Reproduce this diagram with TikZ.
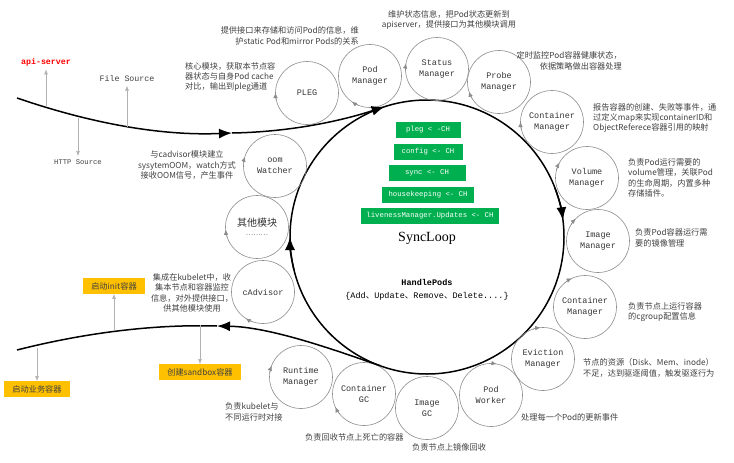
\documentclass[tikz,border=0pt]{standalone}
\usepackage{fontspec}
\setmainfont{Liberation Serif}
\newfontfamily\cjk{Noto Sans CJK SC}
\newfontfamily\mono{Liberation Mono}
\usepackage{tikz}
\usetikzlibrary{arrows.meta}
\definecolor{circgray}{HTML}{8C8C8C}
\definecolor{notegray}{HTML}{404040}
\definecolor{chgreen}{HTML}{00B050}
\definecolor{boxorange}{HTML}{FFC000}
\newcommand{\cjkcomma}{{\cjk 、}}

\begin{document}
\begin{tikzpicture}[x=1pt, y=-1pt,
    mod/.style={circle, draw=circgray, line width=0.6pt, minimum size=63pt, inner sep=0pt, align=center, text=black!80, font=\mono\fontsize{8.5}{11.5}\selectfont},
    modtip/.style={draw=circgray, line width=0.6pt, -{Latex[length=5pt,width=4.5pt]}},
    note/.style={inner sep=0pt, text=notegray, font=\cjk\fontsize{8.2}{10.3}\selectfont},
    chan/.style={fill=chgreen, text=white, minimum height=15.5pt, inner sep=0pt, font=\mono\fontsize{7.3}{8}\selectfont},
    ybox/.style={fill=boxorange, minimum height=15.5pt, inner xsep=8pt, inner ysep=0pt, text=notegray, font=\cjk\fontsize{8.2}{9}\selectfont},
    src/.style={text=notegray, font=\mono\fontsize{8.3}{10}\selectfont},
    flow/.style={line width=1.5pt},
    bigtip/.style={-{Latex[length=13pt,width=10pt]}},
    feed/.style={draw=black!30, line width=0.6pt, -{Latex[length=5pt,width=4pt]}},
]
    \useasboundingbox (0,0) rectangle (734,463);

    % main loop
    \node[circle, draw, line width=1.5pt, minimum size=274pt, inner sep=0pt] (loop) at (427,237) {};
    \node[font=\fontsize{14}{16}\selectfont] (looptitle) at (427,238) {SyncLoop};
    \node[align=center, font=\mono\fontsize{8.5}{13.5}\selectfont] (handle) at (427,290)
        {\textbf{HandlePods}\\\{Add\cjkcomma Update\cjkcomma Remove\cjkcomma Delete....\}};
    \foreach \n/\x/\y/\w/\t in {plegch/428/130/65/{pleg < -CH}, configch/428/152/69/{config <- CH},
        syncch/427/173/77/{sync <- CH}, housech/428/195/92/{housekeeping <- CH},
        livech/430/216/138/{livenessManager.Updates <- CH}}
        \node[chan, minimum width=\w pt] (\n) at (\x,\y) {\t};
    \draw[flow, bigtip] (loop.center) ++(339:137) arc[start angle=339, end angle=353, radius=137];
    \draw[flow, bigtip] (loop.center) ++(166:137) arc[start angle=166, end angle=180, radius=137];

    % modules round the loop
    \foreach \n/\x/\y/\t in {pleg/307/93/PLEG, podmgr/370/76/{Pod\\Manager},
        statusmgr/437/69/{Status\\Manager}, probemgr/499/82/{Probe\\Manager},
        contmgr/552/122/{Container\\Manager}, volmgr/587/178/{Volume\\Manager},
        imgmgr/598/241/{Image\\Manager}, cgmgr/585/307/{Container\\Manager},
        evictmgr/543/359/{Eviction\\Manager}, worker/491/395/{Pod\\Worker},
        imggc/427/408/{Image\\GC}, contgc/364/394/{Container\\GC},
        runtime/301/377/{Runtime\\Manager}, cadv/263/292/cAdvisor, oom/275/166/{oom\\Watcher}}
        \node[mod] (\n) at (\x,\y) {\t};
    \node[mod, font=\cjk\fontsize{10}{12}\selectfont] (other) at (257,227)
        {其他模块\\[-3pt]{\fontsize{7}{8}\selectfont ………}};
    \foreach \n/\a in {pleg/180, podmgr/125, statusmgr/190, probemgr/162, contmgr/180,
        volmgr/209, imgmgr/225, cgmgr/245, evictmgr/265, worker/280, contgc/155,
        runtime/201, cadv/123, oom/197, other/175}
        \draw[modtip] (\n.center) ++(\a-14:31.5) arc[start angle=\a-14, end angle=\a, radius=31.5];

    % pods coming in
    \coordinate (inA) at (17,98);
    \coordinate (inB) at (232,133);
    \path (loop.center) ++(252:137) coordinate (inC);
    \draw[flow, bigtip] (inA) .. controls (90,123) and (160,136) .. (inB);
    \draw[flow, bigtip] (inB) .. controls (290,132) and (341,121) .. (inC);
    \node[src, text=red, font=\mono\bfseries\fontsize{8.3}{10}\selectfont] (api) at (46,62) {api-server};
    \node[src] (filesrc) at (127,79) {File Source};
    \node[src, font=\mono\fontsize{7.2}{9}\selectfont] (httpsrc) at (78,162) {HTTP Source};
    \coordinate (apifoot) at (46,106);
    \coordinate (filefoot) at (127,127);
    \coordinate (httpfoot) at (78,118);
    \draw[feed] (apifoot) -- (api.south);
    \draw[feed] (filefoot) -- (filesrc.south);
    \draw[feed] (httpfoot) -- (httpsrc.north);

    % containers going out
    \path (loop.center) ++(110:137) coordinate (outA);
    \coordinate (outB) at (217,326);
    \coordinate (outC) at (17,350);
    \draw[flow, bigtip] (outA) .. controls (332,349) and (270,327) .. (outB);
    \draw[flow] (outB) .. controls (150,324) and (80,334) .. (outC);
    \node[ybox] (initc) at (114,286) {启动init容器};
    \node[ybox] (appc) at (37,389) {启动业务容器};
    \node[ybox] (sandc) at (200,372) {创建sandbox容器};
    \coordinate (initfoot) at (114,330);
    \coordinate (appfoot) at (37,348);
    \coordinate (sandfoot) at (200,325);
    \draw[feed] (initfoot) -- (initc.south);
    \draw[feed] (appfoot) -- (appc.north);
    \draw[feed] (sandfoot) -- (sandc.north);

    % notes
    \node[note, anchor=east, align=right] (podnote) at (359,36) {提供接口来存储和访问Pod的信息，维\\护static Pod和mirror Pods的关系};
    \node[note, align=center] (statusnote) at (449,20) {维护状态信息，把Pod状态更新到\\apiserver，提供接口为其他模块调用};
    \node[note, anchor=east, align=right] (probenote) at (622,61) {定时监控Pod容器健康状态，\\依据策略做出容器处理};
    \node[note, anchor=west, align=left] (contnote) at (593,118) {报告容器的创建、失败等事件，通\\过定义map来实现containerID和\\ObjectReferece容器引用的映射};
    \node[note, anchor=west, align=left] (volnote) at (628,178) {负责Pod运行需要的\\volume管理，关联Pod\\的生命周期，内置多种\\存储插件。};
    \node[note, anchor=west, align=left] (imgnote) at (635,238) {负责Pod容器运行需\\要的镜像管理};
    \node[note, anchor=west, align=left] (cgnote) at (628,312) {负责节点上运行容器\\的cgroup配置信息};
    \node[note, anchor=west, align=left] (evictnote) at (583,368) {节点的资源（Disk、Mem、inode）\\不足，达到驱逐阈值，触发驱逐行为};
    \node[note, anchor=west] (workernote) at (521,417) {处理每一个Pod的更新事件};
    \node[note, anchor=west] (imggcnote) at (412,447) {负责节点上镜像回收};
    \node[note, anchor=west] (contgcnote) at (305,437) {负责回收节点上死亡的容器};
    \node[note, anchor=west, align=left] (runtimenote) at (225,412) {负责kubelet与\\不同运行时对接};
    \node[note, align=center] (cadvnote) at (192,293) {集成在kubelet中，收\\集本节点和容器监控\\信息，对外提供接口，\\供其他模块使用};
    \node[note, align=center] (oomnote) at (187,165) {与cadvisor模块建立\\sysytemOOM，watch方式\\接收OOM信号，产生事件};
    \node[note, anchor=west, align=left] (plegnote) at (185,77) {核心模块，获取本节点容\\器状态与自身Pod cache\\对比，输出到pleg通道};
\end{tikzpicture}
\end{document}
